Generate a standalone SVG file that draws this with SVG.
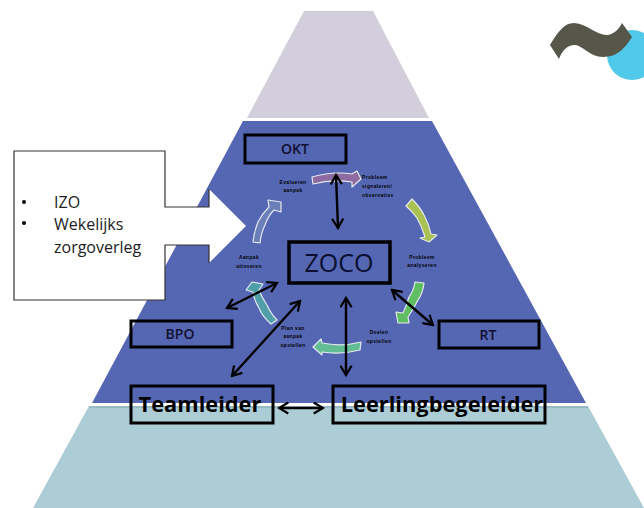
<svg xmlns="http://www.w3.org/2000/svg" width="644" height="508" viewBox="0 0 644 508">
<defs>
<marker id="a" viewBox="0 0 14 14" refX="12" refY="7" markerWidth="13" markerHeight="13" orient="auto-start-reverse" markerUnits="userSpaceOnUse"><path d="M2 1L12 7L2 13" fill="none" stroke="#000" stroke-width="2.4"/></marker>
</defs>
<style>
.box{fill:none;stroke:#000;stroke-width:3}
.lab{font-family:"Open Sans","Noto Sans",sans-serif;font-weight:600;fill:#101030;text-anchor:middle;font-size:14px}
.big{font-family:"Open Sans","Noto Sans",sans-serif;font-weight:bold;fill:#000;text-anchor:middle;font-size:21.8px}
.tiny{font-family:"Liberation Sans",sans-serif;font-weight:bold;font-size:4.8px;letter-spacing:.45px;fill:#000;text-anchor:middle}
.st{text-anchor:start}
.cv{stroke:#e4e8ee;stroke-width:1.2;stroke-linejoin:round}
.con{fill:none;stroke:#000;stroke-width:2.4;marker-start:url(#a);marker-end:url(#a)}
</style>
<rect width="644" height="508" fill="#fff"/>
<g id="pyramid">
<polygon points="304,11 373,11 429,118 247,118" fill="#d3cedb"/>
<polygon points="243,121 432,121 586,403 92,403" fill="#5566b3"/>
<polygon points="89,406 588,406 644,508 33,508" fill="#accdd6"/>
<line x1="89" y1="407" x2="588" y2="407" stroke="#86a8b0" stroke-width="1"/>
</g>
<g id="logo">
<circle cx="632" cy="55" r="25" fill="#4fc8ea"/>
<path d="M550 45C558 32 564 23 574 23C588 24 597 36 608 35C614 34 619 29 622 23L632 37C626 46 619 57 603 57C590 57 582 45 575 45C567 45 562 51 559 59Z" fill="#56574a"/>
</g>
<g id="callout">
<polygon points="14,151 165,151 165,207 209,207 209,189 246,226 209,263 209,245 165,245 165,300 14,300" fill="#fff"/>
<path d="M209 189V207H165V151H14V300H165V245H209V263" fill="none" stroke="#333" stroke-width="1.2"/>
<circle cx="24" cy="202" r="2" fill="#000"/><circle cx="24" cy="223" r="2" fill="#000"/>
<g font-family="'Open Sans','Noto Sans',sans-serif" font-size="16px" fill="#222">
<text x="54" y="208">IZO</text><text x="54" y="230">Wekelijks</text><text x="54" y="253">zorgoverleg</text></g>
</g>
<g id="cycle">
<path class="cv" fill="#8d6aa0" d="M312 177Q333 171 352 174L357 171L361 179L352 187L352 182Q332 179 313 184Z"/>
<path class="cv" fill="#a8c150" d="M406 206L412 199Q420 207 424 215Q429 224 431 234L437 235L429 242L420 238L425 237Q422 227 417 218Q412 211 406 206Z"/>
<path class="cv" fill="#5fbd62" d="M415 282L424 283Q423 293 418 300Q414 308 408 317L409 323L398 323L396 312L403 313Q407 305 409 297Q414 290 415 282Z"/>
<path class="cv" fill="#62bd95" d="M361 342L360 350Q340 355 322 352L322 355L313 347L321 339L322 343Q342 347 361 342Z"/>
<path class="cv" fill="#4f9ea8" d="M277 320L271 324Q262 316 259 308Q254 300 253 292L246 290L252 282L263 284L259 290Q262 298 267 305Q271 314 277 320Z"/>
<path class="cv" fill="#6a7fb8" d="M253 242L260 243Q261 233 265 225Q268 216 274 210L281 212L281 202L268 200L269 207Q262 214 258 222Q254 232 253 242Z"/>
</g>
<g id="cycle-labels">
<text class="tiny" x="293" y="184">Evalueren</text><text class="tiny" x="293" y="192">aanpak</text>
<text class="tiny st" x="362" y="179">Probleem</text><text class="tiny st" x="362" y="188">signaleren/</text><text class="tiny st" x="362" y="197">observaties</text>
<text class="tiny" x="422" y="259">Probleem</text><text class="tiny" x="422" y="267">analyseren</text>
<text class="tiny" x="379" y="334">Doelen</text><text class="tiny" x="379" y="343">opstellen</text>
<text class="tiny" x="293" y="330">Plan van</text><text class="tiny" x="293" y="338">aanpak</text><text class="tiny" x="293" y="347">opstellen</text>
<text class="tiny" x="249" y="259">Aanpak</text><text class="tiny" x="249" y="268">uitvoeren</text>
</g>
<g id="OKT"><rect class="box" x="245" y="135" width="101" height="28"/><text class="lab" x="295" y="154">OKT</text></g>
<g id="ZOCO"><rect x="289" y="242" width="101" height="41" fill="none" stroke="#000" stroke-width="3.5"/><text x="339" y="272" text-anchor="middle" font-family="'Open Sans','Noto Sans',sans-serif" font-size="25" fill="#0b1030">ZOCO</text></g>
<g id="BPO"><rect class="box" x="131" y="321" width="101" height="26"/><text class="lab" x="180" y="339">BPO</text></g>
<g id="RT"><rect class="box" x="439" y="321" width="100" height="27"/><text class="lab" x="488" y="340">RT</text></g>
<g id="Teamleider"><rect class="box" x="131" y="386" width="142" height="37"/><text class="big" x="200" y="412">Teamleider</text></g>
<g id="Leerlingbegeleider"><rect class="box" x="333" y="386" width="212" height="37"/><text class="big" x="442" y="412">Leerlingbegeleider</text></g>
<g id="connectors">
<path class="con" d="M336 175L338 228"/>
<path class="con" d="M277 283L227 308"/>
<path class="con" d="M300 301L232 376"/>
<path class="con" d="M346 298L346 375"/>
<path class="con" d="M392 290L433 325"/>
<path class="con" d="M279 408L323 408"/>
</g>
</svg>
